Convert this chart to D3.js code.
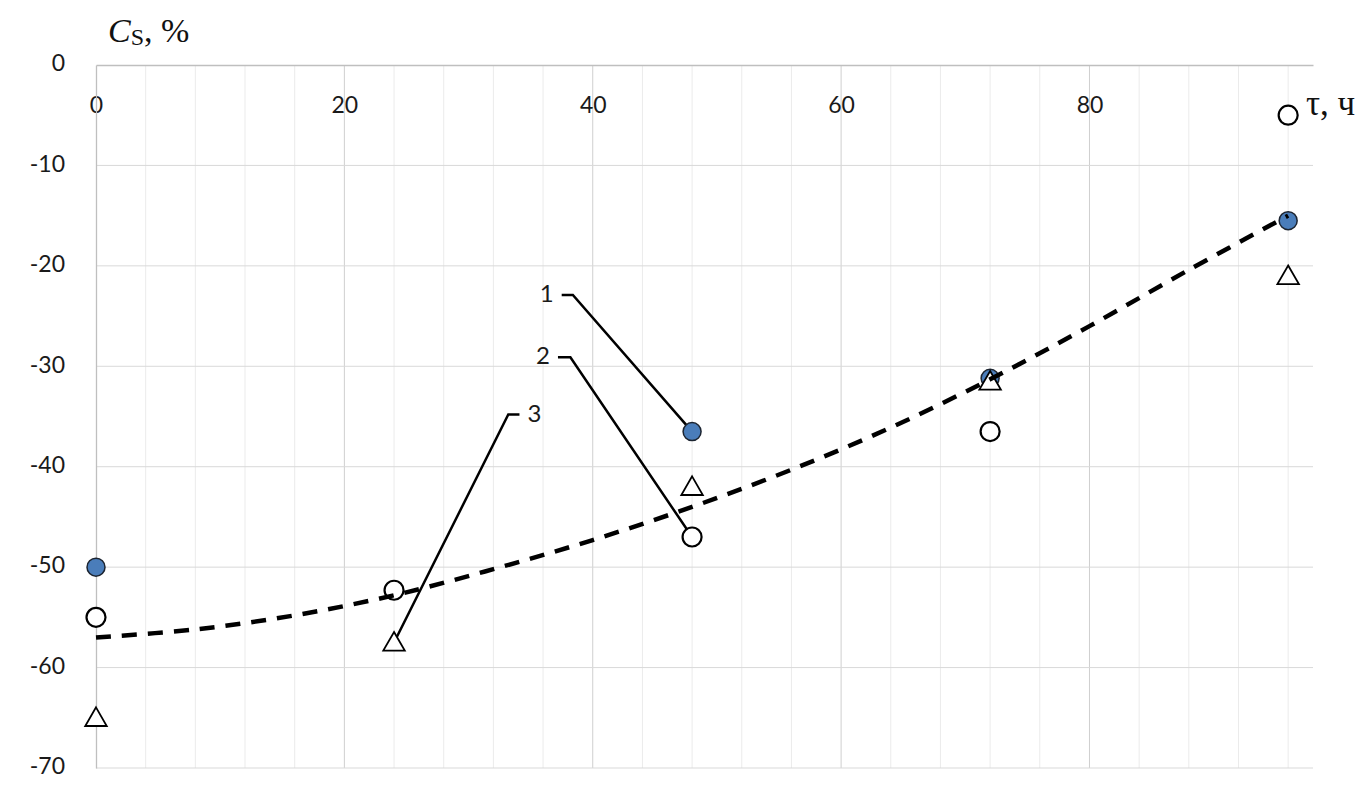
<!DOCTYPE html>
<html><head><meta charset="utf-8">
<script src="https://cdn.jsdelivr.net/npm/d3@7"></script>
<style>html,body{margin:0;padding:0;background:#fff;}svg{display:block;}</style>
</head><body>
<svg id="chart" width="1366" height="788"></svg>
<script>
// ---- data ----
const xTicks = [0, 20, 40, 60, 80];
const yTicks = [0, -10, -20, -30, -40, -50, -60, -70];
const series1X = [0, 48, 72, 96];
const series1Y = [-50, -36.5, -31.2, -15.5];
const series2X = [0, 24, 48, 72, 96];
const series2Y = [-55, -52.3, -47, -36.5, -5];
const series3X = [0, 24, 48, 72, 96];
const series3Y = [-65, -57.5, -42, -31.5, -21];
const trendX = [0, 8, 16, 24, 32, 40, 48, 56, 64, 72, 80, 88, 96];
const trendY = [-57, -56.2, -54.8, -52.8, -50.2, -47.3, -44.0, -40.3, -36.1, -31.3, -26.0, -20.4, -15.0];
const labelNames = ["1", "2", "3"];
const labelTargetSeries = [1, 2, 3];
const labelTargetX = [48, 48, 24];
const labelElbowX = [38.4, 38.2, 33.2];
const labelElbowY = [-22.9, -29.1, -34.8];
const labelStubX = [37.5, 37.2, 34.1];

const svg = d3.select("#chart");
const x = d3.scaleLinear().domain([0, 98]).range([96, 1313]);
const y = d3.scaleLinear().domain([-70, 0]).range([768, 65]);
const sans = "Lato, 'Open Sans', sans-serif";
const serif = "'Liberation Serif', 'Times New Roman', serif";

// grid
const g = svg.append("g");
g.selectAll("line.vg").data(d3.range(4, 98, 4)).join("line")
  .attr("x1", d => x(d)).attr("x2", d => x(d)).attr("y1", y(0)).attr("y2", y(-70))
  .attr("stroke", d => d % 20 === 0 ? "#cfcfcf" : "#ebebeb").attr("stroke-width", 1);
g.selectAll("line.hg").data(yTicks.filter(d => d !== 0)).join("line")
  .attr("x1", x(0)).attr("x2", x(98)).attr("y1", d => y(d)).attr("y2", d => y(d))
  .attr("stroke", "#d9d9d9").attr("stroke-width", 1);

// axes
const xAxis = svg.append("g").attr("transform", `translate(0,${y(0)})`)
  .call(d3.axisBottom(x).tickValues(xTicks).tickSize(0).tickPadding(0).tickFormat(d3.format("d")));
xAxis.select(".domain").attr("stroke", "#bfbfbf").attr("stroke-width", 1.3);
xAxis.selectAll("text").attr("dy", null).attr("y", 42).attr("dominant-baseline", "middle")
  .attr("font-family", sans).attr("font-size", 23).attr("fill", "#1a1a1a");

const yAxis = svg.append("g").attr("transform", `translate(${x(0)},0)`)
  .call(d3.axisLeft(y).tickValues(yTicks).tickSize(0).tickPadding(31).tickFormat(d => d3.format("d")(d).replace("−", "-")));
yAxis.select(".domain").attr("stroke", "#bfbfbf").attr("stroke-width", 1.3);
yAxis.selectAll("text").attr("dy", null).attr("dominant-baseline", "middle")
  .attr("font-family", sans).attr("font-size", 23).attr("fill", "#1a1a1a");

// leader lines
const targetY = i => {
  const s = labelTargetSeries[i];
  const xs = s === 1 ? series1X : s === 2 ? series2X : series3X;
  const ys = s === 1 ? series1Y : s === 2 ? series2Y : series3Y;
  return ys[xs.indexOf(labelTargetX[i])];
};
const lead = svg.append("g");
labelNames.forEach((name, i) => {
  const pts = [[x(labelStubX[i]), y(labelElbowY[i])], [x(labelElbowX[i]), y(labelElbowY[i])], [x(labelTargetX[i]), y(targetY(i))]];
  lead.append("path").attr("d", d3.line()(pts)).attr("fill", "none").attr("stroke", "#000").attr("stroke-width", 2.5);
  const left = labelStubX[i] < labelElbowX[i];
  lead.append("text").text(name)
    .attr("x", left ? x(labelStubX[i]) - 8 : x(labelStubX[i]) + 8)
    .attr("y", y(labelElbowY[i]) + 1)
    .attr("text-anchor", left ? "end" : "start").attr("dominant-baseline", "middle")
    .attr("font-family", sans).attr("font-size", 24).attr("fill", "#1a1a1a");
});

// markers
const s1 = series1X.map((d, i) => [d, series1Y[i]]);
const s2 = series2X.map((d, i) => [d, series2Y[i]]);
const s3 = series3X.map((d, i) => [d, series3Y[i]]);
svg.append("g").selectAll("circle").data(s1).join("circle")
  .attr("cx", d => x(d[0])).attr("cy", d => y(d[1])).attr("r", 9)
  .attr("fill", "#4a7dba").attr("stroke", "#1c2430").attr("stroke-width", 1.5);
svg.append("g").selectAll("circle").data(s2).join("circle")
  .attr("cx", d => x(d[0])).attr("cy", d => y(d[1])).attr("r", 9.5)
  .attr("fill", "#fff").attr("stroke", "#000").attr("stroke-width", 2.2);
const tri = d3.symbol().type(d3.symbolTriangle).size(200);
svg.append("g").selectAll("path").data(s3).join("path")
  .attr("d", tri).attr("transform", d => `translate(${x(d[0])},${y(d[1]) + 2})`)
  .attr("fill", "#fff").attr("stroke", "#000").attr("stroke-width", 1.8);

// trend
const tr = trendX.map((d, i) => [d, trendY[i]]);
svg.append("path").datum(tr)
  .attr("d", d3.line().x(d => x(d[0])).y(d => y(d[1])).curve(d3.curveCatmullRom))
  .attr("fill", "none").attr("stroke", "#000").attr("stroke-width", 4.5)
  .attr("stroke-dasharray", "15,11");

// axis titles
const t1 = svg.append("text").attr("x", 108).attr("y", 42)
  .attr("font-family", serif).attr("font-size", 34).attr("fill", "#111");
t1.append("tspan").attr("font-style", "italic").text("C");
t1.append("tspan").attr("font-size", 24).attr("dy", 3).text("S");
t1.append("tspan").attr("dy", -3).text(", %");

svg.append("text").attr("x", 1306).attr("y", 115)
  .attr("font-family", serif).attr("font-size", 35).attr("fill", "#111")
  .text("τ, ч");
</script>
</body></html>
